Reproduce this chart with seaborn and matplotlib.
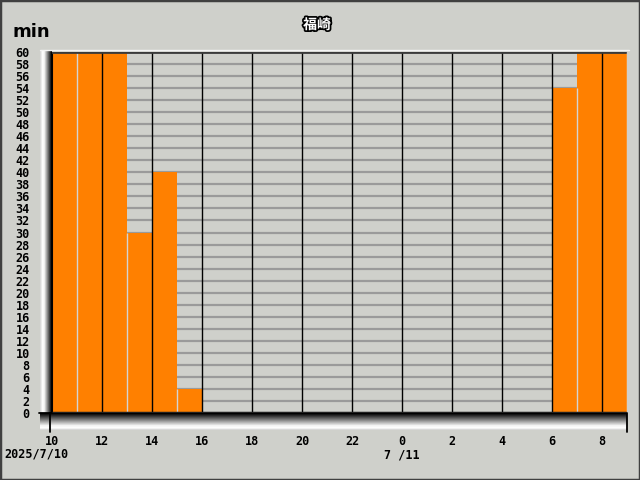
import numpy as np
import pandas as pd
import matplotlib
matplotlib.use("Agg")
import matplotlib.pyplot as plt
import matplotlib.patheffects as pe
from matplotlib.lines import Line2D
from matplotlib.patches import Rectangle
import seaborn as sns

# ---- data ----
hours = [10, 11, 12, 13, 14, 15, 16, 17, 18, 19, 20, 21, 22, 23,
         0, 1, 2, 3, 4, 5, 6, 7, 8]
minutes = [60, 60, 60, 30, 40, 4, 0, 0, 0, 0, 0, 0, 0, 0,
           0, 0, 0, 0, 0, 0, 54, 60, 60]
xtick_labels = ["10", "12", "14", "16", "18", "20", "22", "0", "2", "4", "6", "8"]
ytick_values = list(range(0, 61, 2))
title_text = "福崎"
unit_text = "min"
date1_text = "2025/7/10"
date2_text = "7 /11"

BG = "#cfd0cb"
ORANGE = "#ff8000"

sns.set_theme(style="white")
plt.rcParams['font.family'] = ['DejaVu Sans', 'Noto Sans CJK JP']

W, H = 640, 480
fig = plt.figure(figsize=(6.4, 4.8), dpi=100, facecolor=BG)

def fx(px):
    return px / W

def fy(py):
    return 1 - py / H

ax_l, ax_r, ax_t, ax_b = 52, 627, 52, 413
ax = fig.add_axes([fx(ax_l), fy(ax_b), fx(ax_r - ax_l), (ax_b - ax_t) / H])
ax.set_facecolor(BG)

df = pd.DataFrame({"hour": [str(h) for h in hours], "min": minutes})
sns.barplot(data=df, x="hour", y="min", order=df["hour"], color=ORANGE,
            saturation=1, width=1.0, linewidth=0, edgecolor=ORANGE, ax=ax, zorder=2)

ax.set_xlim(-0.5, len(hours) - 0.5)
ax.set_ylim(0, 60)
ax.set_xlabel("")
ax.set_ylabel("")

ax.set_yticks(ytick_values)
ax.set_yticklabels([str(v) for v in ytick_values], fontfamily="DejaVu Sans Mono",
                   fontweight="bold", fontsize=8.5, color="black")
ax.tick_params(axis="y", length=0, pad=16)
ax.set_xticks(np.arange(-0.5, len(hours) - 0.5, 2))
ax.set_xticklabels(xtick_labels, fontfamily="DejaVu Sans Mono",
                   fontweight="bold", fontsize=8.5, color="black")
ax.tick_params(axis="x", length=0, pad=16)

# horizontal grid behind bars
ax.yaxis.grid(True, color="#9a9a9a", lw=1.6)
ax.xaxis.grid(False)
ax.set_axisbelow(True)
for b in ax.patches:
    b.set_zorder(2)

# vertical lines: light separators at odd hours inside bars, black at even hours
for k in range(1, len(hours)):
    xpos = k - 0.5
    if k % 2 == 0:
        ax.axvline(xpos, color="black", lw=1.0, zorder=4)
    else:
        top = min(minutes[k - 1], minutes[k])
        if top > 0:
            ax.vlines(xpos, 0, top, color="#d4d4d4", lw=1.0, zorder=3)

for s in ["left", "right", "top", "bottom"]:
    ax.spines[s].set_visible(False)
ax.axvline(-0.5, color="black", lw=1.5, zorder=5)
ax.axhline(0, color="#202020", lw=2.5, zorder=5)
ax.axhline(60, color="#3a3a3a", lw=2.0, zorder=5)
ax.axvline(len(hours) - 0.5, color="#e8e8e8", lw=1.0, zorder=5)

# 3D gradient strips
left_strip = fig.add_axes([fx(40), fy(ax_b), fx(ax_l - 40), (ax_b - 50) / H], zorder=-1)
gl = np.linspace(0, 1, 12)
prof = np.interp(gl, [0, 0.2, 0.35, 1.0], [0.85, 1.0, 0.95, 0.0])
left_strip.imshow(prof[None, :], aspect="auto", cmap="gray", vmin=0, vmax=1,
                  extent=[0, 1, 0, 1])
left_strip.axis("off")

bot_strip = fig.add_axes([fx(40), fy(430), fx(ax_r - 40), (430 - ax_b) / H], zorder=-1)
gb = np.linspace(0, 1, 17)
profb = np.interp(gb, [0, 0.75, 0.9, 1.0], [0.0, 0.95, 1.0, 0.85])
bot_strip.imshow(profb[:, None], aspect="auto", cmap="gray", vmin=0, vmax=1,
                 extent=[0, 1, 0, 1])
bot_strip.axis("off")

# decorative lines in figure coords
def fline(x0, y0, x1, y1, color, lw):
    fig.add_artist(Line2D([fx(x0), fx(x1)], [fy(y0), fy(y1)], color=color, lw=lw,
                          transform=fig.transFigure))

fline(40, 50, 629, 50, "#f4f4f4", 1.0)
fline(50, ax_b, 50, 432, "black", 1.3)
fline(39, ax_b, 52, ax_b, "black", 1.3)
fline(627, ax_b, 627, 432, "black", 1.3)

# texts
fig.text(fx(12), fy(37), unit_text, fontsize=13, fontweight="bold", color="black",
         ha="left", va="baseline")
fig.text(fx(317), fy(25), title_text, fontsize=10, fontweight="bold", color="white",
         ha="center", va="center", family=["Noto Sans CJK JP", "DejaVu Sans"],
         path_effects=[pe.withStroke(linewidth=2.5, foreground="black")])
fig.text(fx(36), fy(454), date1_text, fontsize=8.5, fontweight="bold",
         fontfamily="DejaVu Sans Mono", ha="center", va="center", color="black")
fig.text(fx(402), fy(455), date2_text, fontsize=8.5, fontweight="bold",
         fontfamily="DejaVu Sans Mono", ha="center", va="center", color="black")

# figure border
fig.add_artist(Rectangle((0, 0), 1, 1, transform=fig.transFigure, fill=False,
                         edgecolor="#404040", lw=2.5))

fig.savefig("out.png", dpi=100, facecolor=BG)
